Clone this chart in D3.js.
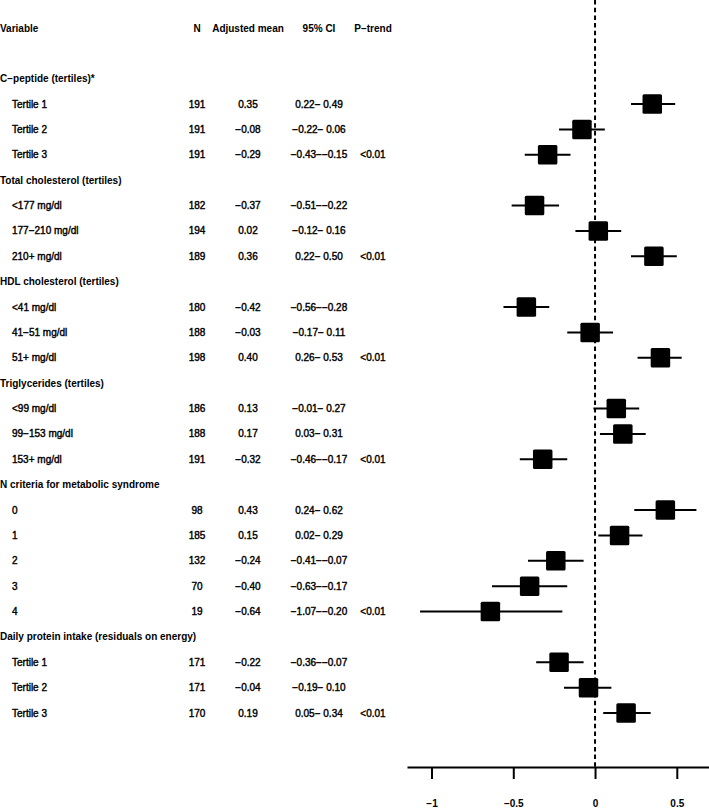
<!DOCTYPE html>
<html>
<head>
<meta charset="utf-8">
<script src="https://cdn.jsdelivr.net/npm/d3@7"></script>
<style>
  html, body { margin: 0; padding: 0; background: #fff; }
  svg { display: block; }
  text { font-family: "Liberation Sans", Arial, Helvetica, sans-serif; fill: #000; }
</style>
</head>
<body>
<svg id="chart" width="709" height="811"></svg>
<script>
// ---------- data ----------
const columnHeaders = ["Variable", "N", "Adjusted mean", "95% CI", "P\u2212trend"];
const rowLabels = [
  "C\u2212peptide (tertiles)*", "Tertile 1", "Tertile 2", "Tertile 3",
  "Total cholesterol (tertiles)", "<177 mg/dl", "177\u2212210 mg/dl", "210+ mg/dl",
  "HDL cholesterol (tertiles)", "<41 mg/dl", "41\u221251 mg/dl", "51+ mg/dl",
  "Triglycerides (tertiles)", "<99 mg/dl", "99\u2212153 mg/dl", "153+ mg/dl",
  "N criteria for metabolic syndrome", "0", "1", "2", "3", "4",
  "Daily protein intake (residuals on energy)", "Tertile 1", "Tertile 2", "Tertile 3"
];
const isGroup = [1,0,0,0, 1,0,0,0, 1,0,0,0, 1,0,0,0, 1,0,0,0,0,0, 1,0,0,0];
const nValues = [null,191,191,191, null,182,194,189, null,180,188,198, null,186,188,191, null,98,185,132,70,19, null,171,171,170];
const means   = [null,0.35,-0.08,-0.29, null,-0.37,0.02,0.36, null,-0.42,-0.03,0.40, null,0.13,0.17,-0.32, null,0.43,0.15,-0.24,-0.40,-0.64, null,-0.22,-0.04,0.19];
const ciLow   = [null,0.22,-0.22,-0.43, null,-0.51,-0.12,0.22, null,-0.56,-0.17,0.26, null,-0.01,0.03,-0.46, null,0.24,0.02,-0.41,-0.63,-1.07, null,-0.36,-0.19,0.05];
const ciHigh  = [null,0.49,0.06,-0.15, null,-0.22,0.16,0.50, null,-0.28,0.11,0.53, null,0.27,0.31,-0.17, null,0.62,0.29,-0.07,-0.17,-0.20, null,-0.07,0.10,0.34];
const pTrend  = ["","","","<0.01", "","","","<0.01", "","","","<0.01", "","","","<0.01", "","","","","","<0.01", "","","","<0.01"];
const tickValues = [-1, -0.5, 0, 0.5];
const tickLabels = ["\u22121", "\u22120.5", "0", "0.5"];

// ---------- layout ----------
const svg = d3.select("#chart");
const fmt = d3.format(".2f");
const minus = s => s.replace(/-/g, "\u2212");
const ciText = (lo, hi) => minus(fmt(lo)) + "\u2212" + (hi >= 0 ? " " : "") + minus(fmt(hi));

// row 0: column header, row 1: blank, rows 2..27: data
const y = d3.scaleLinear().domain([0, 27]).range([28, 713]);
const x = d3.scaleLinear().domain([-1.15, 0.7]).range([407, 709.5]);

const colX = { n: 197, mean: 248, ci: 319, p: 373 };
const fs = 10;

// column headers
const hdrX = [0, colX.n, colX.mean, colX.ci, colX.p];
svg.append("g").selectAll("text").data(columnHeaders).join("text")
  .attr("x", (d, i) => hdrX[i])
  .attr("y", y(0))
  .attr("dy", "0.35em")
  .attr("text-anchor", (d, i) => i === 0 ? "start" : "middle")
  .attr("font-size", fs)
  .attr("font-weight", "bold")
  .text(d => d);

const rows = rowLabels.map((lab, i) => ({
  i, lab, group: isGroup[i], n: nValues[i], m: means[i], lo: ciLow[i], hi: ciHigh[i], p: pTrend[i]
}));

const tg = svg.append("g");
// labels
tg.selectAll("text.lab").data(rows).join("text")
  .attr("class", "lab")
  .attr("x", d => d.group ? 0 : 12)
  .attr("y", d => y(d.i + 2))
  .attr("dy", "0.35em")
  .attr("font-size", fs)
  .attr("font-weight", d => d.group ? "bold" : "normal")
  .attr("stroke", d => d.group ? null : "#000")
  .attr("stroke-width", d => d.group ? null : 0.4)
  .text(d => d.lab);

const dataRows = rows.filter(d => d.m !== null);
const cols = [
  { x: colX.n, f: d => String(d.n) },
  { x: colX.mean, f: d => minus(fmt(d.m)) },
  { x: colX.ci, f: d => ciText(d.lo, d.hi) },
  { x: colX.p, f: d => d.p }
];
cols.forEach(c => {
  tg.append("g").selectAll("text").data(dataRows).join("text")
    .attr("x", c.x)
    .attr("y", d => y(d.i + 2))
    .attr("dy", "0.35em")
    .attr("text-anchor", "middle")
    .attr("font-size", fs)
    .attr("stroke", "#000")
    .attr("stroke-width", 0.4)
    .text(c.f);
});

// axis
const axisY = 767;
// zero reference line
svg.append("line")
  .attr("x1", x(0)).attr("x2", x(0))
  .attr("y1", 0).attr("y2", axisY)
  .attr("stroke", "#000").attr("stroke-width", 2)
  .attr("stroke-dasharray", "4.5,3.2");

const axis = d3.axisBottom(x).tickValues(tickValues)
  .tickFormat((d, i) => tickLabels[i]).tickSize(12).tickSizeOuter(0).tickPadding(21);
const ag = svg.append("g").attr("transform", `translate(0,${axisY})`).call(axis);
ag.select(".domain").attr("stroke-width", 2);
ag.selectAll(".tick line").attr("stroke-width", 2);
ag.selectAll(".tick text")
  .attr("font-size", fs).attr("font-weight", "bold")
  .style("font-family", "'Liberation Sans', Arial, sans-serif");

// CI lines and boxes
const pg = svg.append("g");
pg.selectAll("line.ci").data(dataRows).join("line")
  .attr("class", "ci")
  .attr("x1", d => x(d.lo)).attr("x2", d => x(d.hi))
  .attr("y1", d => y(d.i + 2)).attr("y2", d => y(d.i + 2))
  .attr("stroke", "#000").attr("stroke-width", 2);
const bs = 19.5;
pg.selectAll("rect.box").data(dataRows).join("rect")
  .attr("class", "box")
  .attr("x", d => x(d.m) - bs / 2)
  .attr("y", d => y(d.i + 2) - bs / 2)
  .attr("width", bs).attr("height", bs)
  .attr("rx", 1.5)
  .attr("fill", "#000");
</script>
</body>
</html>
